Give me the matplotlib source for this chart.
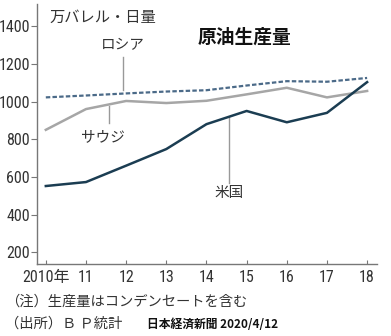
import matplotlib.pyplot as plt
from matplotlib import font_manager

# 原油生産量（万バレル・日量）
years = [2010, 2011, 2012, 2013, 2014, 2015, 2016, 2017, 2018]
russia = [1022, 1032, 1043, 1053, 1060, 1085, 1108, 1105, 1125]
saudi = [850, 960, 1003, 992, 1004, 1038, 1073, 1022, 1056]
usa = [552, 573, 660, 748, 880, 950, 890, 940, 1103]

x_labels = ['2010年', '11', '12', '13', '14', '15', '16', '17', '18']
y_ticks = [200, 400, 600, 800, 1000, 1200, 1400]

# 数字用の幅の狭いフォントを探す
names = {f.name for f in font_manager.fontManager.ttflist}
num_font = 'DejaVu Sans'
for cand in ['Roboto Condensed', 'Open Sans Condensed', 'Sofia Sans Semi Condensed',
             'Liberation Sans Narrow', 'Sofia Sans Condensed']:
    if cand in names:
        num_font = cand
        break
jp = ['Noto Sans CJK JP', 'DejaVu Sans']
plt.rcParams['font.family'] = jp

fig = plt.figure(figsize=(3.91, 3.36), dpi=100)
ax = fig.add_axes([0.0946, 0.214, 0.87, 0.774])

ax.plot(years, saudi, color='#a6a6a6', lw=1.8, zorder=2)
ax.plot(years, russia, color='#4b6a88', lw=1.6, ls=(0, (2.0, 1.0)), zorder=3)
ax.plot(years, usa, color='#1b3d52', lw=1.8, zorder=4)

ax.set_xlim(2009.78, 2018.25)
ax.set_ylim(138, 1517)
ax.set_xticks(years)
ax.set_xticklabels(x_labels)
ax.set_yticks(y_ticks)
ax.set_yticklabels([str(v) for v in y_ticks])

for lab in ax.get_xticklabels() + ax.get_yticklabels():
    lab.set_family([num_font, 'Noto Sans CJK JP'])
    lab.set_fontsize(11.5)
    lab.set_color('#333333')

ax.tick_params(axis='x', direction='in', length=3, color='#777777', pad=4)
ax.tick_params(axis='y', direction='out', length=4, color='#777777', pad=1)
for s in ['top', 'right']:
    ax.spines[s].set_visible(False)
for s in ['left', 'bottom']:
    ax.spines[s].set_color('#777777')
    ax.spines[s].set_linewidth(1.0)

# 系列ラベルと引き出し線
ax.text(2011.92, 1300, 'ロシア', ha='center', va='center', fontsize=10.5, color='#333333')
ax.plot([2011.92, 2011.92], [1236, 1061], color='#999999', lw=1)
ax.text(2011.42, 811, 'サウジ', ha='center', va='center', fontsize=10.5, color='#333333')
ax.plot([2011.58, 2011.58], [976, 886], color='#999999', lw=1)
ax.text(2014.57, 515, '米国', ha='center', va='center', fontsize=10.5, color='#333333')
ax.plot([2014.55, 2014.55], [918, 569], color='#999999', lw=1)

fig.text(49 / 391, 1 - 17 / 336, '万バレル・日量', ha='left', va='center', fontsize=11, color='#333333')
fig.text(244 / 391, 1 - 37 / 336, '原油生産量', ha='center', va='center', fontsize=13.5,
         fontweight='bold', color='#111111')

fig.text(5 / 391, 1 - 302 / 336, '（注）生産量はコンデンセートを含む', ha='left', va='center',
         fontsize=10.3, color='#333333')
fig.text(5 / 391, 1 - 324 / 336, '（出所）Ｂ Ｐ統計', ha='left', va='center',
         fontsize=10.3, color='#333333')
fig.text(147 / 391, 1 - 324 / 336, '日本経済新聞 2020/4/12', ha='left', va='center',
         fontsize=8.5, fontweight='bold', color='#111111')

fig.savefig('out.png', dpi=100)
